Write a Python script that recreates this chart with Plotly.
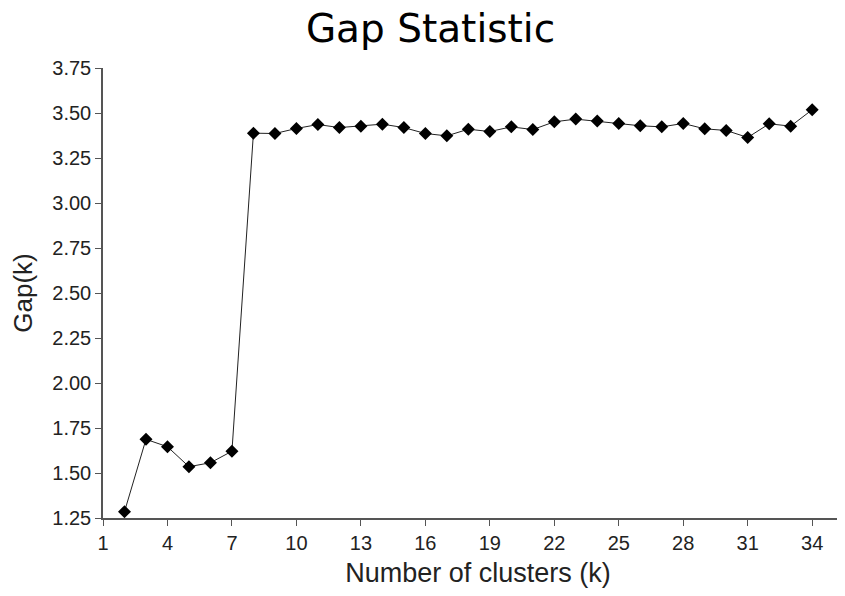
import plotly.graph_objects as go

k_values = list(range(2, 35))
gap_values = [1.285, 1.687, 1.646, 1.535, 1.557, 1.621, 3.388, 3.386, 3.414, 3.436,
              3.419, 3.427, 3.438, 3.419, 3.386, 3.373, 3.410, 3.397, 3.423, 3.408,
              3.451, 3.466, 3.455, 3.442, 3.429, 3.423, 3.442, 3.412, 3.403, 3.364,
              3.440, 3.427, 3.518]
x_ticks = list(range(1, 35, 3))
y_ticks = [1.25, 1.5, 1.75, 2.0, 2.25, 2.5, 2.75, 3.0, 3.25, 3.5, 3.75]
y_tick_labels = [f"{v:.2f}" for v in y_ticks]

fig = go.Figure(go.Scatter(
    x=k_values, y=gap_values, mode="lines+markers",
    line=dict(color="#222222", width=1),
    marker=dict(symbol="diamond", size=10, color="black"),
))

axis_common = dict(showline=True, linecolor="#555555", linewidth=1.5,
                   ticks="outside", ticklen=6, tickcolor="#555555",
                   showgrid=False, zeroline=False, automargin=False,
                   tickfont=dict(family="Liberation Sans, Arial", size=20, color="#222222"))

fig.update_layout(
    width=845, height=596,
    paper_bgcolor="white", plot_bgcolor="white",
    margin=dict(l=95, r=0, t=60, b=86),
    title=dict(text="Gap Statistic", x=0.5, xref="container", y=0.966, yref="container",
               xanchor="center", yanchor="middle",
               font=dict(family="DejaVu Sans", size=39, color="black")),
    xaxis=dict(range=[1, 35.9], tickvals=x_ticks,
               title=dict(text="Number of clusters (k)", standoff=10,
                          font=dict(family="Liberation Sans, Arial", size=27, color="#222222")),
               **axis_common),
    yaxis=dict(range=[1.25, 3.75], tickvals=y_ticks, ticktext=y_tick_labels,
               title=dict(text="Gap(k)", standoff=16,
                          font=dict(family="Liberation Sans, Arial", size=26, color="#222222")),
               **axis_common),
    showlegend=False,
)

fig.write_html("out.html")
